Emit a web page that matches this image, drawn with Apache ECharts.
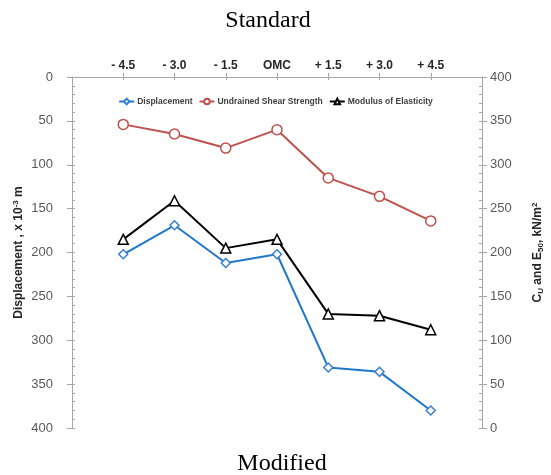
<!DOCTYPE html>
<html>
<head>
<meta charset="utf-8">
<script src="https://cdn.jsdelivr.net/npm/echarts@6/dist/echarts.min.js"></script>
<style>html,body{margin:0;padding:0;background:#fff}#c{width:551px;height:475px}</style>
</head>
<body>
<div id="c"></div>
<script>
var categories = ['- 4.5', '- 3.0', '- 1.5', 'OMC', '+ 1.5', '+ 3.0', '+ 4.5'];
var displacement = [202, 169, 212, 202, 331, 336, 380];
var shearStrength = [346, 335, 319, 340, 285, 264, 236];
var modulus = [215, 259, 205, 215, 130, 128, 112];

function pts(arr) { return arr.map(function (v, i) { return [i + 1, v]; }); }
var catPos = categories.map(function (c, i) { return i + 1; });

var chart = echarts.init(document.getElementById('c'), null, { renderer: 'canvas' });
var axisGray = '#a6a6a6';
var labelGray = '#595959';
var tickStyle = { color: axisGray, width: 1 };
var gridRect = { left: 72, right: 69, top: 77, bottom: 47, outerBoundsMode: 'none', containLabel: false };

chart.setOption({
  animation: false,
  title: [
    { text: 'Standard', left: 263, textAlign: 'center', top: 4, textStyle: { fontFamily: 'Liberation Serif', fontSize: 24, fontWeight: 'normal', color: '#000' } },
    { text: 'Modified', left: 277, textAlign: 'center', top: 447, textStyle: { fontFamily: 'Liberation Serif', fontSize: 24, fontWeight: 'normal', color: '#000' } }
  ],
  legend: {
    top: 92, left: 'center',
    itemWidth: 15, itemHeight: 7, itemGap: 6,
    textStyle: { fontFamily: 'Liberation Sans', fontSize: 8.5, fontWeight: 'bold', color: '#404040', padding: [0, 0, 0, -2] },
    data: ['Displacement', 'Undrained Shear Strength', 'Modulus of Elasticity']
  },
  grid: [Object.assign({}, gridRect), Object.assign({}, gridRect)],
  xAxis: [
    {
      gridIndex: 0, type: 'value', position: 'top', min: 0, max: 8, interval: 1,
      axisLine: { show: true, lineStyle: { color: axisGray } },
      axisTick: { show: true, inside: true, length: 3, lineStyle: tickStyle, customValues: catPos },
      axisLabel: {
        show: true, margin: 5, customValues: catPos,
        formatter: function (v) { return categories[v - 1] || ''; },
        fontFamily: 'Liberation Sans', fontSize: 12, fontWeight: 'bold', color: '#262626'
      },
      splitLine: { show: false }
    },
    {
      gridIndex: 1, type: 'value', position: 'top', min: 0, max: 8, interval: 1,
      axisLine: { show: false },
      axisTick: { show: true, inside: false, length: 4, lineStyle: tickStyle, customValues: catPos },
      axisLabel: { show: false },
      splitLine: { show: false }
    }
  ],
  yAxis: [
    {
      gridIndex: 0, type: 'value', position: 'left', inverse: true, min: 0, max: 400, interval: 50,
      name: '{b|Displacement , x 10}{sup|-3}{b| m}',
      nameLocation: 'middle', nameGap: 46, nameRotate: 90, nameMoveOverlap: false,
      nameTextStyle: {
        rich: {
          b: { fontFamily: 'Liberation Sans', fontSize: 12, fontWeight: 'bold', color: '#262626' },
          sup: { fontFamily: 'Liberation Sans', fontSize: 8, fontWeight: 'bold', color: '#262626', verticalAlign: 'top', padding: [0, 0, 6, 0] }
        }
      },
      axisLine: { show: true, lineStyle: { color: axisGray } },
      axisTick: { show: true, inside: true, length: 3, lineStyle: tickStyle },
      minorTick: { show: true, splitNumber: 5, length: 3, lineStyle: tickStyle },
      axisLabel: { margin: 19, fontFamily: 'Liberation Sans', fontSize: 13, color: labelGray },
      splitLine: { show: false }
    },
    {
      gridIndex: 0, type: 'value', position: 'right', min: 0, max: 400, interval: 50,
      name: '{b|C}{sub|U}{b| and E}{sub|50}{b|, kN/m}{sup|2}',
      nameLocation: 'middle', nameGap: 49, nameRotate: 90,
      nameTextStyle: {
        rich: {
          b: { fontFamily: 'Liberation Sans', fontSize: 12, fontWeight: 'bold', color: '#262626' },
          sub: { fontFamily: 'Liberation Sans', fontSize: 8, fontWeight: 'bold', color: '#262626', verticalAlign: 'bottom', padding: [6, 0, 0, 0] },
          sup: { fontFamily: 'Liberation Sans', fontSize: 8, fontWeight: 'bold', color: '#262626', verticalAlign: 'top', padding: [0, 0, 6, 0] }
        }
      },
      axisLine: { show: true, lineStyle: { color: axisGray } },
      axisTick: { show: true, inside: true, length: 3, lineStyle: tickStyle },
      minorTick: { show: true, splitNumber: 5, length: 3, lineStyle: tickStyle },
      axisLabel: { margin: 8, fontFamily: 'Liberation Sans', fontSize: 13, color: labelGray },
      splitLine: { show: false }
    },
    {
      gridIndex: 1, type: 'value', position: 'left', inverse: true, min: 0, max: 400, interval: 50,
      axisLine: { show: false },
      axisTick: { show: true, inside: false, length: 5, lineStyle: tickStyle },
      axisLabel: { show: false }, splitLine: { show: false }
    },
    {
      gridIndex: 1, type: 'value', position: 'right', min: 0, max: 400, interval: 50,
      axisLine: { show: false },
      axisTick: { show: true, inside: false, length: 5, lineStyle: tickStyle },
      axisLabel: { show: false }, splitLine: { show: false }
    }
  ],
  series: [
    {
      name: 'Displacement', type: 'line', xAxisIndex: 0, yAxisIndex: 0,
      data: pts(displacement),
      symbol: 'diamond', symbolSize: 9, showAllSymbol: true,
      lineStyle: { color: '#1f77c9', width: 2 },
      itemStyle: { color: '#fff', borderColor: '#3a7fd0', borderWidth: 1.5 }
    },
    {
      name: 'Undrained Shear Strength', type: 'line', xAxisIndex: 0, yAxisIndex: 1,
      data: pts(shearStrength),
      symbol: 'circle', symbolSize: 10,
      lineStyle: { color: '#c0504d', width: 2 },
      itemStyle: { color: '#fff', borderColor: '#c0504d', borderWidth: 1.5 }
    },
    {
      name: 'Modulus of Elasticity', type: 'line', xAxisIndex: 0, yAxisIndex: 1,
      data: pts(modulus),
      symbol: 'triangle', symbolSize: 10,
      lineStyle: { color: '#000', width: 2 },
      itemStyle: { color: '#fff', borderColor: '#000', borderWidth: 1.5 }
    }
  ]
});
</script>
</body>
</html>
